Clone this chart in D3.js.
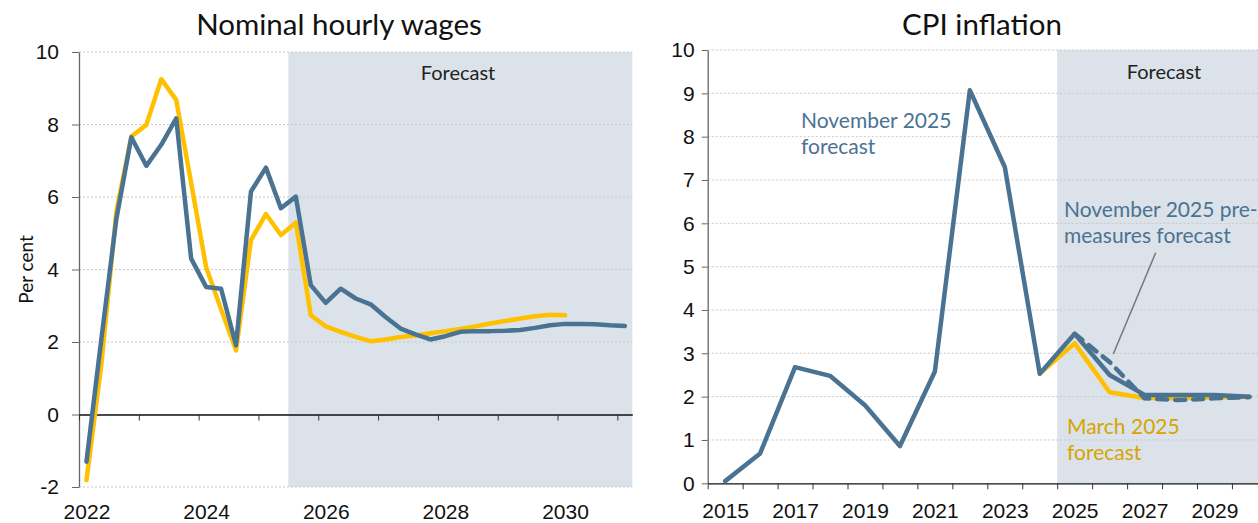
<!DOCTYPE html>
<html>
<head>
<meta charset="utf-8">
<script src="https://cdn.jsdelivr.net/npm/d3@7"></script>
<style>
  body { margin: 0; background: #fff; }
  svg { display: block; font-family: Lato, sans-serif; }
</style>
</head>
<body>
<svg id="chart" width="1258" height="523"></svg>
<script>
// Nominal hourly wages, quarterly, per cent
const wageQuarters = [
  '2022Q1', '2022Q2', '2022Q3', '2022Q4', '2023Q1', '2023Q2', '2023Q3', '2023Q4',
  '2024Q1', '2024Q2', '2024Q3', '2024Q4', '2025Q1', '2025Q2', '2025Q3', '2025Q4',
  '2026Q1', '2026Q2', '2026Q3', '2026Q4', '2027Q1', '2027Q2', '2027Q3', '2027Q4',
  '2028Q1', '2028Q2', '2028Q3', '2028Q4', '2029Q1', '2029Q2', '2029Q3', '2029Q4',
  '2030Q1', '2030Q2', '2030Q3', '2030Q4', '2031Q1'
]
const wageYearLabels = ['2022', '2024', '2026', '2028', '2030']
const wageNov25 = [
  -1.3, 2.1, 5.4, 7.65, 6.86, 7.44, 8.17, 4.3, 3.52, 3.47, 1.91, 6.15, 6.81, 5.69, 6.01,
  3.57, 3.08, 3.47, 3.2, 3.04, 2.69, 2.37, 2.21, 2.07, 2.16, 2.28, 2.3, 2.3, 2.31, 2.33,
  2.39, 2.46, 2.5, 2.5, 2.49, 2.46, 2.44
]
const wageMar25 = [
  -1.81, 1.4, 5.6, 7.67, 7.99, 9.25, 8.68, 6.39, 4.07, 2.9, 1.77, 4.81, 5.53, 4.95, 5.29,
  2.74, 2.43, 2.28, 2.14, 2.02, 2.07, 2.14, 2.18, 2.24, 2.3, 2.36, 2.43, 2.51, 2.58, 2.65,
  2.71, 2.75, 2.74
]
const wageForecastStart = '2025Q3'

// CPI inflation, annual, per cent
const cpiYears = ['2015', '2016', '2017', '2018', '2019', '2020', '2021', '2022',
  '2023', '2024', '2025', '2026', '2027', '2028', '2029', '2030']
const cpiYearLabels = ['2015', '2017', '2019', '2021', '2023', '2025', '2027', '2029']
const cpiNov25 = [0.05, 0.69, 2.68, 2.48, 1.8, 0.86, 2.58, 9.07, 7.3, 2.53, 3.45, 2.5, 2.04, 2.04, 2.04, 2.0]
const cpiNov25PreMeasures = [null, null, null, null, null, null, null, null, null, null,
  3.45, 2.8, 1.96, 1.92, 1.96, 1.99]
const cpiMar25 = [null, null, null, null, null, null, null, null, null, 2.53,
  3.23, 2.1, 1.97, 1.96, 1.98, 2.0]
const cpiForecastStart = '2025'

const blue = '#4a7393'
const yellow = '#ffc000'
const gold = '#d7a400'
const shade = '#dbe2e9'

const svg = d3.select('#chart')

function grid (g, x0, x1, ys, ticks) {
  g.selectAll('line.grid')
    .data(ticks)
    .enter()
    .append('line')
    .attr('class', 'grid')
    .attr('x1', x0)
    .attr('x2', x1)
    .attr('y1', d => ys(d))
    .attr('y2', d => ys(d))
    .attr('stroke', '#c8c8c8')
    .attr('stroke-width', 1)
    .attr('stroke-dasharray', '2,2')
}

// ---------- left panel ----------
const left = svg.append('g')
const xW = d3.scaleLinear().domain([0, wageQuarters.length]).range([79, 632.3])
const yW = d3.scaleLinear().domain([-2, 10]).range([487, 52])
const wageTicks = [-2, 0, 2, 4, 6, 8, 10]

left.append('rect')
  .attr('x', xW(wageQuarters.indexOf(wageForecastStart)))
  .attr('y', yW(10))
  .attr('width', xW(wageQuarters.length) - xW(wageQuarters.indexOf(wageForecastStart)))
  .attr('height', yW(-2) - yW(10))
  .attr('fill', shade)

grid(left, xW(0), xW(wageQuarters.length), yW, wageTicks)

left.append('g')
  .attr('transform', 'translate(' + xW(0) + ',0)')
  .call(d3.axisLeft(yW).tickValues(wageTicks).tickSize(7).tickSizeOuter(0).tickPadding(13)
    .tickFormat(d => String(d)))
  .call(g => g.select('.domain').attr('stroke', '#666').attr('stroke-width', 1.3))
  .call(g => g.selectAll('.tick line').attr('stroke', '#666'))
  .call(g => g.selectAll('text').attr('font-size', 21).attr('fill', '#111'))

const yearTicksW = d3.range(0, wageQuarters.length + 1, 4)
left.append('g')
  .attr('transform', 'translate(0,' + yW(0) + ')')
  .call(d3.axisBottom(xW).tickValues(yearTicksW).tickSize(6).tickSizeOuter(0).tickFormat(''))
  .call(g => g.select('.domain').attr('stroke', '#111').attr('stroke-width', 1.3))
  .call(g => g.selectAll('.tick line').attr('stroke', '#333'))

left.append('g')
  .attr('transform', 'translate(0,' + yW(-2) + ')')
  .call(d3.axisBottom(xW)
    .tickValues(wageYearLabels.map(y => wageQuarters.indexOf(y + 'Q1') + 0.5))
    .tickSize(0).tickPadding(17)
    .tickFormat((d, i) => wageYearLabels[i]))
  .call(g => g.select('.domain').remove())
  .call(g => g.selectAll('text').attr('font-size', 21).attr('fill', '#111'))

const wageLine = d3.line()
  .defined(d => d != null)
  .x((d, i) => xW(i + 0.5))
  .y(d => yW(d))

left.append('path')
  .datum(wageMar25)
  .attr('fill', 'none')
  .attr('stroke', yellow)
  .attr('stroke-width', 4.5)
  .attr('stroke-linejoin', 'round')
  .attr('stroke-linecap', 'round')
  .attr('d', wageLine)

left.append('path')
  .datum(wageNov25)
  .attr('fill', 'none')
  .attr('stroke', blue)
  .attr('stroke-width', 4.5)
  .attr('stroke-linejoin', 'round')
  .attr('stroke-linecap', 'round')
  .attr('d', wageLine)

left.append('text')
  .attr('x', 339)
  .attr('y', 35)
  .attr('text-anchor', 'middle')
  .attr('font-size', 29.5)
  .attr('fill', '#111')
  .text('Nominal hourly wages')

left.append('text')
  .attr('x', 458)
  .attr('y', 80)
  .attr('text-anchor', 'middle')
  .attr('font-size', 20)
  .attr('fill', '#222')
  .text('Forecast')

left.append('text')
  .attr('transform', 'translate(33,' + ((yW(10) + yW(-2)) / 2) + ') rotate(-90)')
  .attr('text-anchor', 'middle')
  .attr('font-size', 19)
  .attr('fill', '#111')
  .text('Per cent')

// ---------- right panel ----------
const right = svg.append('g')
const xC = d3.scaleLinear().domain([0, cpiYears.length]).range([707.7, 707.7 + cpiYears.length * 34.95])
const yC = d3.scaleLinear().domain([0, 10]).range([483.3, 50])
const cpiTicks = d3.range(0, 11)

right.append('rect')
  .attr('x', xC(cpiYears.indexOf(cpiForecastStart)))
  .attr('y', yC(10))
  .attr('width', xC(cpiYears.length) - xC(cpiYears.indexOf(cpiForecastStart)))
  .attr('height', yC(0) - yC(10))
  .attr('fill', shade)

grid(right, xC(0), xC(cpiYears.length), yC, cpiTicks.slice(1))

right.append('g')
  .attr('transform', 'translate(' + xC(0) + ',0)')
  .call(d3.axisLeft(yC).tickValues(cpiTicks).tickSize(6).tickSizeOuter(0).tickPadding(7))
  .call(g => g.select('.domain').attr('stroke', '#666').attr('stroke-width', 1.3))
  .call(g => g.selectAll('.tick line').attr('stroke', '#666'))
  .call(g => g.selectAll('text').attr('font-size', 21).attr('fill', '#111'))

right.append('g')
  .attr('transform', 'translate(0,' + yC(0) + ')')
  .call(d3.axisBottom(xC).tickValues(d3.range(0, cpiYears.length + 1)).tickSize(6).tickSizeOuter(0).tickFormat(''))
  .call(g => g.select('.domain').attr('stroke', '#111').attr('stroke-width', 1.3))
  .call(g => g.selectAll('.tick line').attr('stroke', '#333'))

right.append('g')
  .attr('transform', 'translate(0,' + yC(0) + ')')
  .call(d3.axisBottom(xC)
    .tickValues(cpiYearLabels.map(y => cpiYears.indexOf(y) + 0.5))
    .tickSize(0).tickPadding(20)
    .tickFormat((d, i) => cpiYearLabels[i]))
  .call(g => g.select('.domain').remove())
  .call(g => g.selectAll('text').attr('font-size', 21).attr('fill', '#111'))

const cpiLine = d3.line()
  .defined(d => d != null)
  .x((d, i) => xC(i + 0.5))
  .y(d => yC(d))

right.append('path')
  .datum(cpiMar25)
  .attr('fill', 'none')
  .attr('stroke', yellow)
  .attr('stroke-width', 4.5)
  .attr('stroke-linejoin', 'round')
  .attr('stroke-linecap', 'round')
  .attr('d', cpiLine)

right.append('path')
  .datum(cpiNov25)
  .attr('fill', 'none')
  .attr('stroke', blue)
  .attr('stroke-width', 4.5)
  .attr('stroke-linejoin', 'round')
  .attr('stroke-linecap', 'round')
  .attr('d', cpiLine)

right.append('path')
  .datum(cpiNov25PreMeasures)
  .attr('fill', 'none')
  .attr('stroke', blue)
  .attr('stroke-width', 4.5)
  .attr('stroke-dasharray', '10,8')
  .attr('stroke-linecap', 'round')
  .attr('d', cpiLine)

right.append('text')
  .attr('x', 982)
  .attr('y', 35)
  .attr('text-anchor', 'middle')
  .attr('font-size', 29.5)
  .attr('fill', '#111')
  .text('CPI inflation')

right.append('text')
  .attr('x', 1164)
  .attr('y', 79)
  .attr('text-anchor', 'middle')
  .attr('font-size', 20)
  .attr('fill', '#222')
  .text('Forecast')

function label (g, x, y, lines, color) {
  const t = g.append('text')
    .attr('x', x)
    .attr('y', y)
    .attr('font-size', 21)
    .attr('fill', color)
  lines.forEach((s, i) => {
    t.append('tspan').attr('x', x).attr('dy', i === 0 ? 0 : 25.5).text(s)
  })
}

label(right, 801, 128, ['November 2025', 'forecast'], blue)
label(right, 1064, 217, ['November 2025 pre-', 'measures forecast'], blue)
label(right, 1067, 434, ['March 2025', 'forecast'], gold)

right.append('line')
  .attr('x1', 1155.7)
  .attr('y1', 252.7)
  .attr('x2', 1113.3)
  .attr('y2', 354)
  .attr('stroke', '#777')
  .attr('stroke-width', 1.5)
</script>
</body>
</html>
